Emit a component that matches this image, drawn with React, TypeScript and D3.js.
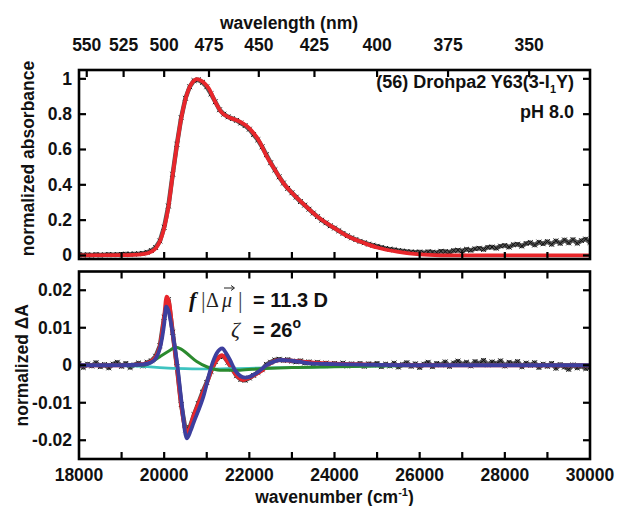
import React, { useEffect } from "react";
import * as d3 from "d3";

// ---------- data ----------
const wnStart = 18000;
const wnEnd = 30000;
const wnStep = 100;

// top panel: measured absorbance (noisy), one value every 100 cm-1 from 18000 to 30000
const absData = [
  0.005, 0.003, 0.004, 0.002, 0.005, 0.003, 0.004, 0.006, 0.004, 0.005,
  0.006, 0.008, 0.007, 0.009, 0.010, 0.012, 0.018, 0.028, 0.045, 0.082,
  0.160, 0.280, 0.460, 0.630, 0.780, 0.890, 0.955, 0.990, 0.995, 0.980,
  0.955, 0.915, 0.870, 0.825, 0.800, 0.785, 0.775, 0.765, 0.750, 0.735,
  0.715, 0.685, 0.655, 0.615, 0.570, 0.525, 0.485, 0.445, 0.410, 0.380,
  0.355, 0.330, 0.305, 0.285, 0.262, 0.240, 0.220, 0.200, 0.185, 0.168,
  0.155, 0.140, 0.125, 0.112, 0.100, 0.090, 0.080, 0.072, 0.064, 0.058,
  0.052, 0.046, 0.040, 0.036, 0.032, 0.028, 0.025, 0.022, 0.020, 0.018,
  0.020, 0.015, 0.021, 0.019, 0.016, 0.024, 0.022, 0.019, 0.028, 0.030,
  0.026, 0.035, 0.029, 0.038, 0.041, 0.034, 0.046, 0.048, 0.041, 0.053,
  0.057, 0.047, 0.061, 0.064, 0.053, 0.068, 0.073, 0.059, 0.076, 0.066,
  0.079, 0.063, 0.083, 0.068, 0.088, 0.071, 0.090, 0.069, 0.084, 0.093,
  0.074,
];

// top panel: fit (red)
const absFitWn = [18000, 19000, 19500, 19700, 19800, 19900, 20000, 20100, 20200, 20300, 20400, 20500, 20600, 20700, 20770, 20900, 21050, 21200, 21350, 21500, 21650, 21800, 22000, 22250, 22400, 22600, 22800, 23000, 23300, 23600, 24000, 24300, 24700, 25000, 25500, 26000, 26500, 27000, 30000];
const absFit = [0, 0.002, 0.008, 0.022, 0.04, 0.08, 0.155, 0.275, 0.455, 0.625, 0.775, 0.885, 0.955, 0.99, 0.998, 0.985, 0.945, 0.87, 0.81, 0.785, 0.77, 0.755, 0.72, 0.64, 0.565, 0.485, 0.41, 0.355, 0.285, 0.22, 0.155, 0.11, 0.07, 0.045, 0.02, 0.006, 0.001, 0, 0];

// bottom panel: measured Stark spectrum (noisy), one value every 100 cm-1
const dAData = [
  0.0005, -0.0006, 0.0003, -0.0002, 0.0007, -0.0004, 0.0002, -0.0007, 0.0003, 0.0008,
  -0.0003, 0.0005, -0.0006, 0.0001, 0.0006, -0.0002, 0.0008, 0.0012, 0.0024, 0.0052,
  0.0128, 0.0175, 0.0088, -0.0004, -0.0105, -0.0172, -0.0166, -0.0132, -0.0102, -0.0072,
  -0.0046, -0.0016, 0.0010, 0.0023, 0.0024, 0.0008, -0.0010, -0.0028, -0.0038, -0.0040,
  -0.0034, -0.0027, -0.0019, -0.0012, 0.0002, 0.0008, 0.0014, 0.0016, 0.0013, 0.0015,
  0.0011, 0.0009, 0.0012, 0.0006, 0.0009, 0.0004, 0.0008, 0.0002, 0.0006, 0.0000,
  0.0005, 0.0001, 0.0006, -0.0002, 0.0004, 0.0000, 0.0005, -0.0003, 0.0004, 0.0001,
  0.0005, -0.0004, 0.0003, -0.0002, 0.0006, -0.0005, 0.0002, 0.0007, -0.0003, 0.0004,
  -0.0006, 0.0003, 0.0008, -0.0004, 0.0005, 0.0001, 0.0009, -0.0003, 0.0006, 0.0011,
  0.0002, 0.0008, -0.0002, 0.0010, 0.0004, 0.0013, 0.0001, 0.0009, 0.0004, 0.0012,
  -0.0002, 0.0008, 0.0003, 0.0010, -0.0004, 0.0006, 0.0000, 0.0007, -0.0006, 0.0003,
  -0.0003, 0.0005, -0.0008, 0.0002, -0.0005, -0.0011, 0.0001, -0.0007, -0.0002, -0.0009,
  -0.0004,
];

// bottom panel: fit (red)
const dAFitWn = [18000, 19000, 19500, 19700, 19800, 19900, 20000, 20060, 20120, 20200, 20295, 20400, 20530, 20600, 20685, 20840, 21000, 21155, 21250, 21366, 21450, 21546, 21700, 21860, 22000, 22100, 22330, 22500, 22720, 23000, 23500, 24000, 25000, 26000, 30000];
const dAFit = [0, 0, 0.0003, 0.0011, 0.0022, 0.005, 0.0128, 0.0183, 0.0165, 0.0085, 0, -0.0105, -0.018, -0.0168, -0.0137, -0.0093, -0.0048, 0, 0.0017, 0.0027, 0.0016, 0, -0.0027, -0.0039, -0.0033, -0.0027, -0.0011, 0.0006, 0.0014, 0.0012, 0.0007, 0.0004, 0.0001, 0, 0];

// bottom panel: blue component
const blueWn = [18000, 19000, 19500, 19700, 19800, 19900, 20000, 20045, 20100, 20200, 20310, 20410, 20530, 20620, 20685, 20920, 21117, 21234, 21366, 21450, 21546, 21663, 21900, 22170, 22405, 22750, 23000, 23430, 24000, 25000, 26000, 30000];
const blueVal = [0, 0, 0.0002, 0.0008, 0.0018, 0.0045, 0.011, 0.0156, 0.0145, 0.0085, 0, -0.01, -0.0195, -0.0175, -0.0155, -0.0084, 0, 0.0032, 0.0045, 0.0033, 0.0014, -0.0013, -0.0033, -0.0021, 0, 0.0014, 0.0012, 0.0005, 0.0003, 0.0001, 0, 0];

// bottom panel: green component
const greenWn = [18000, 19000, 19500, 19700, 19900, 20140, 20270, 20400, 20530, 20765, 21000, 21310, 21780, 22250, 23000, 24000, 25000, 26000, 27000, 30000];
const greenVal = [0, 0, 0, 0.0008, 0.0023, 0.004, 0.0048, 0.0043, 0.0032, 0.001, -0.0004, -0.0013, -0.0013, -0.0009, -0.0006, -0.0004, -0.0002, -0.0001, 0, 0];

// bottom panel: cyan component
const cyanWn = [18000, 19000, 19500, 20000, 20500, 21000, 21500, 22000, 23000, 24000, 25000, 26000, 27000, 30000];
const cyanVal = [0, -0.0001, -0.0003, -0.0007, -0.0009, -0.001, -0.0009, -0.0008, -0.0006, -0.0004, -0.0002, -0.0001, 0, 0];

// ticks
const wavelengthTicks = [550, 525, 500, 475, 450, 425, 400, 375, 350];
const wnLabelTicks = [18000, 20000, 22000, 24000, 26000, 28000, 30000];
const wnMinorTicks = [19000, 20000, 21000, 22000, 23000, 24000, 25000, 26000, 27000, 28000, 29000];
const absTicks = [0, 0.2, 0.4, 0.6, 0.8, 1];
const absTickLabels = ["0", "0.2", "0.4", "0.6", "0.8", "1"];
const dATicks = [-0.02, -0.01, 0, 0.01, 0.02];
const dATickLabels = ["-0.02", "-0.01", "0", "0.01", "0.02"];

// ---------- layout ----------
const W = 618;
const H = 506;
const L = 79;
const R = 590;
const TOP0 = 70;
const TOP1 = 259;
const BOT0 = 271.5;
const BOT1 = 459;
const TICK = 7;

const FONT = "'Liberation Sans', Arial, sans-serif";
const SERIF = "'Liberation Serif', 'DejaVu Serif', serif";
const RED = "#e8262b";
const BLUE = "#3d3f9e";
const GREEN = "#2b8a2e";
const CYAN = "#3ec3c0";

export default function App() {
  useEffect(() => {
    document.body.style.margin = "0";
  }, []);

  const x = d3.scaleLinear().domain([wnStart, wnEnd]).range([L, R]);
  const yTop = d3.scaleLinear().domain([-0.02, 1.05]).range([TOP1, TOP0]);
  const yBot = d3.scaleLinear().domain([-0.025, 0.025]).range([BOT1, BOT0]);
  const grid = d3.range(wnStart, wnEnd + 1, wnStep);

  const smooth = (ys: d3.ScaleLinear<number, number>) =>
    d3
      .line<[number, number]>()
      .x((d) => x(d[0]))
      .y((d) => ys(d[1]))
      .curve(d3.curveMonotoneX);
  const jag = (ys: d3.ScaleLinear<number, number>) =>
    d3
      .line<[number, number]>()
      .x((d) => x(d[0]))
      .y((d) => ys(d[1]));

  const zip = (a: number[], b: number[]) => a.map((v, i) => [v, b[i]] as [number, number]);
  const absPts = zip(grid, absData);
  const dAPts = zip(grid, dAData);

  const markers = (pts: [number, number][], ys: d3.ScaleLinear<number, number>) =>
    pts
      .map(([a, b]) => {
        const px = x(a);
        const py = ys(b);
        const s = 2.4;
        return `M${px - s},${py - s}L${px + s},${py + s}M${px - s},${py + s}L${px + s},${py - s}`;
      })
      .join("");

  const txt = { fontFamily: FONT, fontWeight: 700, fontSize: 17.5, fill: "#111" } as const;

  const frame = (y0: number, y1: number) => (
    <rect x={L} y={y0} width={R - L} height={y1 - y0} fill="none" stroke="#000" strokeWidth={2.6} />
  );

  return (
    <svg width={W} height={H} style={{ position: "absolute", left: 0, top: 0, background: "#fff" }}>
      <defs>
        <clipPath id="clipTop">
          <rect x={L} y={TOP0} width={R - L} height={TOP1 - TOP0} />
        </clipPath>
        <clipPath id="clipBot">
          <rect x={L} y={BOT0} width={R - L} height={BOT1 - BOT0} />
        </clipPath>
      </defs>

      {/* ---------- top panel ---------- */}
      <g clipPath="url(#clipTop)">
        <path d={jag(yTop)(absPts) || ""} fill="none" stroke="#555" strokeWidth={4.5} strokeLinejoin="round" />
        <path d={markers(absPts, yTop)} stroke="#111" strokeWidth={1} fill="none" />
        <path d={smooth(yTop)(zip(absFitWn, absFit)) || ""} fill="none" stroke={RED} strokeWidth={3.8} />
      </g>
      {frame(TOP0, TOP1)}
      {/* top axis: wavelength */}
      {wavelengthTicks.map((w) => {
        const px = x(1e7 / w);
        return (
          <g key={"wl" + w}>
            <line x1={px} x2={px} y1={TOP0} y2={TOP0 + TICK} stroke="#000" strokeWidth={2.2} />
            <text x={px} y={51} textAnchor="middle" {...txt}>
              {w}
            </text>
          </g>
        );
      })}
      <text x={289} y={29} textAnchor="middle" {...txt}>
        wavelength (nm)
      </text>
      {wnMinorTicks.map((t) => (
        <line key={"tb" + t} x1={x(t)} x2={x(t)} y1={TOP1} y2={TOP1 - TICK} stroke="#000" strokeWidth={2.2} />
      ))}
      {absTicks.map((t, i) => (
        <g key={"ya" + t}>
          <line x1={L} x2={L + TICK} y1={yTop(t)} y2={yTop(t)} stroke="#000" strokeWidth={2.2} />
          <line x1={R} x2={R - TICK} y1={yTop(t)} y2={yTop(t)} stroke="#000" strokeWidth={2.2} />
          <text x={72} y={yTop(t) + 6} textAnchor="end" {...txt}>
            {absTickLabels[i]}
          </text>
        </g>
      ))}
      <text transform={`translate(34,${(TOP0 + TOP1) / 2 - 6}) rotate(-90)`} textAnchor="middle" {...txt}>
        normalized absorbance
      </text>
      <text x={574} y={88} textAnchor="end" {...txt} fontSize={18}>
        (56) Dronpa2 Y63(3-I
        <tspan fontSize={11} dy={5}>1</tspan>
        <tspan dy={-5}>Y)</tspan>
      </text>
      <text x={574} y={118} textAnchor="end" {...txt} fontSize={18}>
        pH 8.0
      </text>

      {/* ---------- bottom panel ---------- */}
      <g clipPath="url(#clipBot)">
        <path d={jag(yBot)(dAPts) || ""} fill="none" stroke="#555" strokeWidth={4.5} strokeLinejoin="round" />
        <path d={markers(dAPts, yBot)} stroke="#111" strokeWidth={1} fill="none" />
        <path d={smooth(yBot)(zip(dAFitWn, dAFit)) || ""} fill="none" stroke={RED} strokeWidth={4} />
        <path d={smooth(yBot)(zip(cyanWn, cyanVal)) || ""} fill="none" stroke={CYAN} strokeWidth={2.6} />
        <path d={smooth(yBot)(zip(greenWn, greenVal)) || ""} fill="none" stroke={GREEN} strokeWidth={3} />
        <path d={smooth(yBot)(zip(blueWn, blueVal)) || ""} fill="none" stroke={BLUE} strokeWidth={3.8} />
      </g>
      {frame(BOT0, BOT1)}
      {wnMinorTicks.map((t) => (
        <g key={"bt" + t}>
          <line x1={x(t)} x2={x(t)} y1={BOT0} y2={BOT0 + TICK} stroke="#000" strokeWidth={2.2} />
          <line x1={x(t)} x2={x(t)} y1={BOT1} y2={BOT1 - TICK} stroke="#000" strokeWidth={2.2} />
        </g>
      ))}
      {wnLabelTicks.map((t) => (
        <text key={"bl" + t} x={x(t)} y={481} textAnchor="middle" {...txt}>
          {t}
        </text>
      ))}
      <text x={(L + R) / 2} y={503} textAnchor="middle" {...txt}>
        wavenumber (cm
        <tspan fontSize={11} dy={-7}>-1</tspan>
        <tspan dy={7}>)</tspan>
      </text>
      {dATicks.map((t, i) => (
        <g key={"yd" + t}>
          <line x1={L} x2={L + TICK} y1={yBot(t)} y2={yBot(t)} stroke="#000" strokeWidth={2.2} />
          <line x1={R} x2={R - TICK} y1={yBot(t)} y2={yBot(t)} stroke="#000" strokeWidth={2.2} />
          <text x={72} y={yBot(t) + 6} textAnchor="end" {...txt}>
            {dATickLabels[i]}
          </text>
        </g>
      ))}
      <text transform={`translate(28,${(BOT0 + BOT1) / 2}) rotate(-90)`} textAnchor="middle" {...txt}>
        normalized ΔA
      </text>

      {/* annotation */}
      <text x={189} y={307} fontFamily={SERIF} fontStyle="italic" fontWeight={700} fontSize={22} fill="#111">
        f
      </text>
      <text x={201} y={308} fontFamily={SERIF} fontSize={23} fill="#444">
        |
      </text>
      <text x={206} y={307} fontFamily={SERIF} fontSize={20} fill="#222">
        Δ
      </text>
      <text x={222} y={307} fontFamily={SERIF} fontStyle="italic" fontSize={20} fill="#222">
        μ
      </text>
      <line x1={224} x2={234} y1={288} y2={288} stroke="#222" strokeWidth={1} />
      <path d="M231,285.5 L234.5,288 L231,290.5" fill="none" stroke="#222" strokeWidth={1} />
      <text x={238} y={308} fontFamily={SERIF} fontSize={23} fill="#444">
        |
      </text>
      <text x={253} y={307} {...txt} fontSize={20}>
        = 11.3 D
      </text>
      <text x={231} y={337} fontFamily={SERIF} fontStyle="italic" fontSize={22} fill="#222">
        ζ
      </text>
      <text x={253} y={337} {...txt} fontSize={20}>
        = 26
        <tspan fontSize={14} dy={-9}>o</tspan>
      </text>
    </svg>
  );
}
